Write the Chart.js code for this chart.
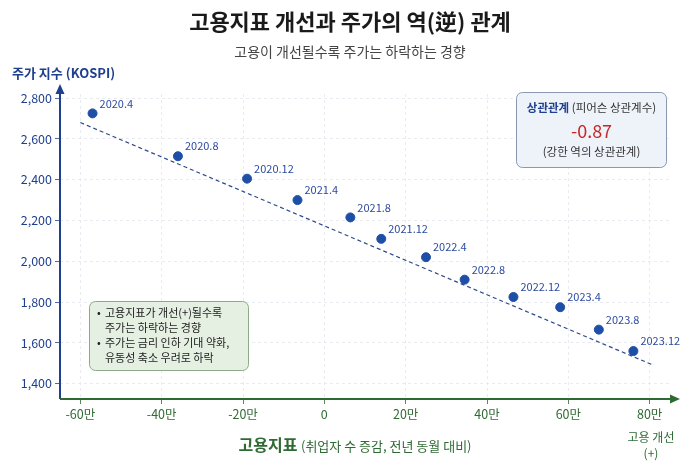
<!DOCTYPE html>
<html>
<head>
<meta charset="utf-8">
<script src="https://cdn.jsdelivr.net/npm/chart.js@4.4.1/dist/chart.umd.min.js"></script>
<style>
  html, body { margin: 0; padding: 0; background: #fff; }
  #chart { display: block; }
</style>
</head>
<body>
<canvas id="chart" width="700" height="466"></canvas>
<script>
// data
const periods = ['2020.4','2020.8','2020.12','2021.4','2021.8','2021.12','2022.4','2022.8','2022.12','2023.4','2023.8','2023.12'];
const jobChange = [-57, -36, -19, -6.6, 6.4, 14, 25, 34.5, 46.5, 58, 67.5, 76]; // 만 명
const kospi = [2725, 2515, 2405, 2300, 2215, 2110, 2020, 1910, 1825, 1775, 1665, 1560];
const trendX = [-60, 81];
const trendY = [2680, 1490];
const corrValue = '-0.87';
const noteLines = [
    ['•', '고용지표가 개선(+)될수록'],
    ['', '주가는 하락하는 경향'],
    ['•', '주가는 금리 인하 기대 약화,'],
    ['', '유동성 축소 우려로 하락']
];

const FONT = '"Noto Sans CJK KR", "Noto Sans", sans-serif';
const NAVY = '#1f3f8f';
const GREEN = '#2f6a33';
const POINT = '#1e4fa6';

function roundRect(ctx, x, y, w, h, r) {
    ctx.beginPath();
    ctx.moveTo(x + r, y);
    ctx.arcTo(x + w, y, x + w, y + h, r);
    ctx.arcTo(x + w, y + h, x, y + h, r);
    ctx.arcTo(x, y + h, x, y, r);
    ctx.arcTo(x, y, x + w, y, r);
    ctx.closePath();
}

const decorPlugin = {
    id: 'decor',
    afterDatasetsDraw(chart) {
        const ctx = chart.ctx;
        const a = chart.chartArea;
        ctx.save();

        // titles
        ctx.textAlign = 'center';
        ctx.textBaseline = 'middle';
        ctx.fillStyle = '#1a1a1a';
        ctx.font = 'bold 22px ' + FONT;
        ctx.fillText('고용지표 개선과 주가의 역(逆) 관계', 350, 22);
        ctx.fillStyle = '#444';
        ctx.font = '14px ' + FONT;
        ctx.fillText('고용이 개선될수록 주가는 하락하는 경향', 350, 52);

        // y axis title
        ctx.textAlign = 'left';
        ctx.fillStyle = NAVY;
        ctx.font = 'bold 13px ' + FONT;
        ctx.fillText('주가 지수 (KOSPI)', 12, 73);

        // axes with arrows
        ctx.lineWidth = 2;
        ctx.strokeStyle = NAVY;
        ctx.fillStyle = NAVY;
        ctx.beginPath();
        ctx.moveTo(a.left, a.bottom);
        ctx.lineTo(a.left, a.top - 2);
        ctx.stroke();
        ctx.beginPath();
        ctx.moveTo(a.left, a.top - 10);
        ctx.lineTo(a.left - 4.5, a.top);
        ctx.lineTo(a.left + 4.5, a.top);
        ctx.closePath();
        ctx.fill();

        ctx.strokeStyle = GREEN;
        ctx.fillStyle = GREEN;
        ctx.beginPath();
        ctx.moveTo(a.left, a.bottom);
        ctx.lineTo(a.right + 2, a.bottom);
        ctx.stroke();
        ctx.beginPath();
        ctx.moveTo(a.right + 10, a.bottom);
        ctx.lineTo(a.right, a.bottom - 4.5);
        ctx.lineTo(a.right, a.bottom + 4.5);
        ctx.closePath();
        ctx.fill();

        // x axis title
        ctx.textBaseline = 'middle';
        const t1 = '고용지표 ';
        const t2 = '(취업자 수 증감, 전년 동월 대비)';
        ctx.font = '13px ' + FONT;
        const w2 = ctx.measureText(t2).width;
        ctx.font = 'bold 16px ' + FONT;
        const w1 = ctx.measureText(t1).width;
        let sx = 355 - (w1 + w2) / 2;
        ctx.textAlign = 'left';
        ctx.fillText(t1, sx, 445);
        ctx.font = '13px ' + FONT;
        ctx.fillText(t2, sx + w1, 446);

        ctx.textAlign = 'center';
        ctx.font = '12px ' + FONT;
        ctx.fillText('고용 개선', 651, 437);
        ctx.fillText('(+)', 651, 453);

        // point labels
        const meta = chart.getDatasetMeta(1);
        ctx.fillStyle = '#2c4aa0';
        ctx.font = '11px ' + FONT;
        ctx.textAlign = 'left';
        meta.data.forEach((pt, i) => {
            ctx.fillText(periods[i], pt.x + 7, pt.y - 10);
        });

        // correlation box
        roundRect(ctx, 516.5, 92.5, 150, 75, 6);
        ctx.fillStyle = '#eef3fa';
        ctx.fill();
        ctx.lineWidth = 1;
        ctx.strokeStyle = '#8a98b0';
        ctx.stroke();
        ctx.font = 'bold 11.5px ' + FONT;
        const c1 = '상관관계 ';
        const cw1 = ctx.measureText(c1).width;
        ctx.font = '11.5px ' + FONT;
        const c2 = '(피어슨 상관계수)';
        const cw2 = ctx.measureText(c2).width;
        let cx = 591.5 - (cw1 + cw2) / 2;
        ctx.textAlign = 'left';
        ctx.fillStyle = NAVY;
        ctx.font = 'bold 11.5px ' + FONT;
        ctx.fillText(c1, cx, 108);
        ctx.fillStyle = '#333';
        ctx.font = '11.5px ' + FONT;
        ctx.fillText(c2, cx + cw1, 108);
        ctx.textAlign = 'center';
        ctx.fillStyle = '#c62828';
        ctx.font = '18px ' + FONT;
        ctx.fillText(corrValue, 591.5, 131);
        ctx.fillStyle = '#333';
        ctx.font = '11.5px ' + FONT;
        ctx.fillText('(강한 역의 상관관계)', 591.5, 152);

        // note box
        roundRect(ctx, 89.5, 301.5, 159, 69, 6);
        ctx.fillStyle = '#e5efe2';
        ctx.fill();
        ctx.strokeStyle = '#8caa88';
        ctx.stroke();
        ctx.fillStyle = '#222';
        ctx.font = '11px ' + FONT;
        ctx.textAlign = 'left';
        noteLines.forEach((ln, i) => {
            const y = 313 + i * 15;
            if (ln[0]) ctx.fillText(ln[0], 97, y);
            ctx.fillText(ln[1], 105, y);
        });

        ctx.restore();
    }
};

new Chart(document.getElementById('chart'), {
    type: 'scatter',
    data: {
        datasets: [
            {
                type: 'line',
                data: trendX.map((x, i) => ({ x, y: trendY[i] })),
                borderColor: '#2c4a8a',
                borderWidth: 1.2,
                borderDash: [4, 3],
                pointRadius: 0,
                fill: false
            },
            {
                data: jobChange.map((x, i) => ({ x, y: kospi[i] })),
                backgroundColor: POINT,
                borderColor: POINT,
                pointRadius: 4.5
            }
        ]
    },
    options: {
        responsive: false,
        animation: false,
        layout: { padding: { top: 94, right: 30, left: 0, bottom: 0 } },
        plugins: { legend: { display: false }, tooltip: { enabled: false } },
        scales: {
            x: {
                type: 'linear',
                min: -65, max: 85,
                afterFit: s => { s.height = 67; },
                ticks: {
                    stepSize: 20,
                    includeBounds: false,
                    color: GREEN,
                    font: { family: FONT, size: 12.5 },
                    padding: 3,
                    maxRotation: 0,
                    callback: v => v === 0 ? '0' : v + '만'
                },
                grid: { color: '#e4e6ec', lineWidth: 0.8, tickColor: GREEN, tickLength: 5 },
                border: { display: false, dash: [3, 3] }
            },
            y: {
                min: 1325, max: 2820,
                afterFit: s => { s.width = 60; },
                ticks: {
                    stepSize: 200,
                    includeBounds: false,
                    color: NAVY,
                    font: { family: FONT, size: 12.5 },
                    padding: 3,
                    callback: v => v.toLocaleString('en-US')
                },
                grid: { color: '#e4e6ec', lineWidth: 0.8, tickColor: NAVY, tickLength: 5 },
                border: { display: false, dash: [3, 3] }
            }
        }
    },
    plugins: [decorPlugin]
});
</script>
</body>
</html>
